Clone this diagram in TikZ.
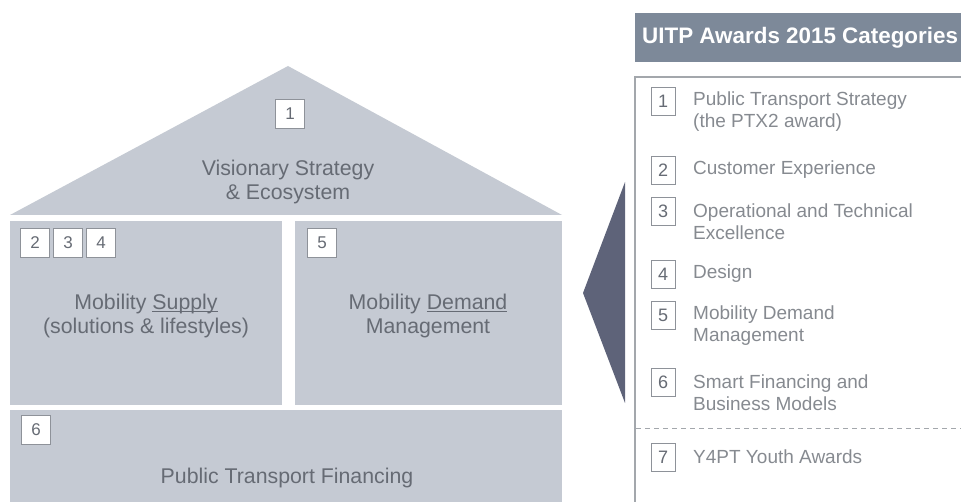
\documentclass[tikz,border=0pt]{standalone}
\usepackage{fontspec}
\setmainfont{Liberation Sans}
\definecolor{housefill}{HTML}{C5CAD3}
\definecolor{housetext}{HTML}{666B74}
\definecolor{listtext}{HTML}{868A90}
\definecolor{boxline}{HTML}{8E9299}
\definecolor{headfill}{HTML}{7D8999}
\definecolor{arrowfill}{HTML}{5E6379}
\definecolor{panelline}{HTML}{A3A7AC}
\newcommand\myul[1]{\setbox0\hbox{#1}\rlap{\rule[-2.6pt]{\wd0}{0.9pt}}\box0}
\begin{document}
\begin{tikzpicture}[x=1pt,y=-1pt,
  housenum/.style={draw=boxline, line width=0.9pt, fill=white, minimum width=29pt, minimum height=29pt, inner sep=0pt, text=housetext, font=\fontsize{17}{17}\selectfont},
  listnum/.style={draw=boxline, line width=0.9pt, fill=white, minimum width=24pt, minimum height=28pt, inner sep=0pt, text=housetext, font=\fontsize{18}{18}\selectfont},
  housetxt/.style={text=housetext, align=center, inner sep=0pt, font=\fontsize{21.3}{23.5}\selectfont},
  listtxt/.style={text=listtext, align=left, anchor=west, inner sep=0pt, font=\fontsize{19}{22}\selectfont}]
\useasboundingbox (0,0) rectangle (961,502);
% house
\fill[housefill] (10,215) -- (288,66) -- (562,215) -- cycle;
\fill[housefill] (10,221) rectangle (282,405);
\fill[housefill] (295,221) rectangle (562,405);
\fill[housefill] (10,410) rectangle (562,502);
\node[housenum] (h1) at (290,114) {1};
\node[housenum] (h2) at (35,243) {2};
\node[housenum] (h3) at (68,243) {3};
\node[housenum] (h4) at (101,243) {4};
\node[housenum] (h5) at (322,243) {5};
\node[housenum] (h6) at (36,430) {6};
\node[housetxt] (vis) at (288,182) {Visionary Strategy\\\& Ecosystem};
\node[housetxt] (sup) at (146,316) {Mobility \myul{Supply}\\(solutions \& lifestyles)};
\node[housetxt] (dem) at (428,316) {Mobility \myul{Demand}\\Management};
\node[housetxt] (fin) at (287,478) {Public Transport Financing};
% arrow
\fill[arrowfill] (583,293) -- (625,182) -- (625,403) -- cycle;
% panel
\fill[headfill] (635,13) rectangle (970,62);
\node[anchor=west, text=white, inner sep=0pt, font=\fontsize{22.4}{22.4}\selectfont\bfseries] (head) at (642,38) {UITP Awards 2015 Categories};
\draw[panelline, line width=2pt] (635,502) -- (635,77) -- (970,77);
\draw[panelline, line width=1pt, dash pattern=on 5pt off 4pt] (636,428) -- (970,428);
\node[listnum] (l1) at (663,101) {1};
\node[listtxt] (t1) at (693,112) {Public Transport Strategy\\(the PTX2 award)};
\node[listnum] (l2) at (663,170) {2};
\node[listtxt] (t2) at (693,170) {Customer Experience};
\node[listnum] (l3) at (663,211) {3};
\node[listtxt] (t3) at (693,222) {Operational and Technical\\Excellence};
\node[listnum] (l4) at (663,274) {4};
\node[listtxt] (t4) at (693,274) {Design};
\node[listnum] (l5) at (663,315) {5};
\node[listtxt] (t5) at (693,326) {Mobility Demand\\Management};
\node[listnum] (l6) at (663,382) {6};
\node[listtxt] (t6) at (693,393) {Smart Financing and\\Business Models};
\node[listnum] (l7) at (663,457) {7};
\node[listtxt] (t7) at (693,457) {Y4PT Youth Awards};
\end{tikzpicture}
\end{document}
